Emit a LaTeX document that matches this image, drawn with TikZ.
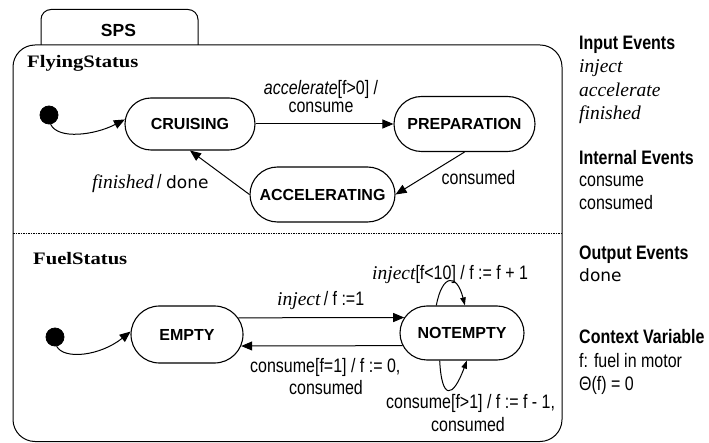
\documentclass[tikz,border=0pt]{standalone}
\usepackage{fontspec}
\setmainfont{Liberation Serif}
\newfontfamily\narsans[FakeStretch=0.82]{Liberation Sans}
\newfontfamily\arialsans{Liberation Sans}
\newfontfamily\djv{DejaVu Sans}
\newfontfamily\widserif[FakeStretch=1.18]{Liberation Serif}
\usetikzlibrary{shapes.misc,arrows.meta}

\begin{document}
\begin{tikzpicture}[x=1pt,y=-1pt,
  stt/.style={rounded rectangle, draw, line width=1.1pt, inner sep=0pt,
    font=\arialsans\bfseries\fontsize{16}{18}\selectfont},
  arr/.style={line width=1pt, -{Triangle[length=11pt,width=9pt]}},
  looparr/.style={line width=1pt, -{Triangle[length=8pt,width=5.5pt]}},
  lbl/.style={inner sep=0pt, font=\narsans\fontsize{19.5}{22}\selectfont},
  ser/.style={inner sep=0pt, font=\rmfamily\itshape\fontsize{19.5}{22}\selectfont},
  hdr/.style={inner sep=0pt, font=\narsans\bfseries\fontsize{19.5}{22}\selectfont},
  regname/.style={inner sep=0pt, font=\widserif\bfseries\fontsize{17.5}{20}\selectfont},
  dnfont/.style={inner sep=0pt, font=\djv\fontsize{17}{20}\selectfont},
  initdot/.style={circle, fill=black, draw, line width=0.8pt, inner sep=0pt, minimum size=18pt},
  frame/.style={line width=1pt}
]
\useasboundingbox (0,0) rectangle (709,443);

% container
\draw[frame, rounded corners=10pt] (41,45) -- (41,9.5) -- (198,9.5) -- (198,45);
\draw[frame, rounded corners=22pt] (13,45) rectangle (562,441.5);
\draw[line width=1.2pt, dash pattern=on 1.5pt off 1pt] (13,233.3) -- (562,233.3);
\node[inner sep=0pt, anchor=base, font=\arialsans\bfseries\fontsize{17.5}{20}\selectfont] (sps) at (118.5,37) {SPS};
\node[regname, anchor=base west] (flying) at (27,68) {FlyingStatus};
\node[regname, anchor=base west] (fuel) at (33,265) {FuelStatus};

% FlyingStatus states
\node[stt, minimum width=130pt, minimum height=52pt] (cru) at (190,124) {CRUISING};
\node[stt, minimum width=141pt, minimum height=55pt] (prep) at (464.5,124) {PREPARATION};
\node[stt, minimum width=145pt, minimum height=55pt] (acc) at (322.5,194.5) {ACCELERATING};
\node[initdot] (i1) at (49,115) {};

\draw[arr] (i1.-80) .. controls (58,140) and (95,135) .. (cru.176);
\draw[arr] (cru.east) -- (prep.west);
\draw[arr] (prep.south) -- (acc.east);
\draw[arr] (acc.west) -- (cru.south);

\node[lbl, anchor=base] (l1a) at (321,95) {{\itshape accelerate}[f>0] /};
\node[lbl, anchor=base] (l1b) at (321,113) {consume};
\node[lbl, anchor=base] (l2) at (478.5,185) {consumed};
\node[lbl, anchor=base west] (l3) at (92,189) {{\rmfamily\itshape finished}\,/ {\djv\fontsize{17}{20}\selectfont done}};

% FuelStatus states
\node[stt, minimum width=112pt, minimum height=57pt] (empty) at (187,334.5) {EMPTY};
\node[stt, minimum width=124pt, minimum height=54pt] (notempty) at (462,333) {NOTEMPTY};
\node[initdot] (i2) at (55,337) {};

\draw[arr] (i2.-80) .. controls (64,360) and (100,356) .. (empty.177);
\draw[arr] (empty.18) -- (notempty.165.4);
\draw[arr] (notempty.192.5) -- (empty.-12.1);
\draw[looparr] (notempty.133) .. controls +(6,-32) and +(-8,-32) .. (notempty.84);
\draw[looparr] (notempty.231) .. controls +(2,40) and +(-14,38) .. (notempty.280.5);

\node[lbl, anchor=base west] (l4) at (277,306) {{\rmfamily\itshape inject}\,/ f :=1};
\node[lbl, anchor=base west] (l5a) at (250,372) {consume[f=1] / f := 0,};
\node[lbl, anchor=base] (l5b) at (326,394) {consumed};
\node[lbl, anchor=base west] (l6) at (372,280) {{\rmfamily\itshape inject}[f<10] / f := f + 1};
\node[lbl, anchor=base west] (l7a) at (386,408) {consume[f>1] / f := f - 1,};
\node[lbl, anchor=base] (l7b) at (468,431) {consumed};

% legend
\node[hdr, anchor=base west] (g1) at (579,50) {Input Events};
\node[ser, anchor=base west] (g1a) at (579,73) {inject};
\node[ser, anchor=base west] (g1b) at (579,97) {accelerate};
\node[ser, anchor=base west] (g1c) at (579,120) {finished};
\node[hdr, anchor=base west] (g2) at (579,165) {Internal Events};
\node[lbl, anchor=base west] (g2a) at (579,187) {consume};
\node[lbl, anchor=base west] (g2b) at (579,210) {consumed};
\node[hdr, anchor=base west] (g3) at (579,260) {Output Events};
\node[dnfont, anchor=base west] (g3a) at (579,282) {done};
\node[hdr, anchor=base west] (g4) at (579,343) {Context Variable};
\node[lbl, anchor=base west] (g4a) at (579,367) {f: fuel in motor};
\node[lbl, anchor=base west] (g4b) at (579,390) {Θ(f) = 0};
\end{tikzpicture}
\end{document}
